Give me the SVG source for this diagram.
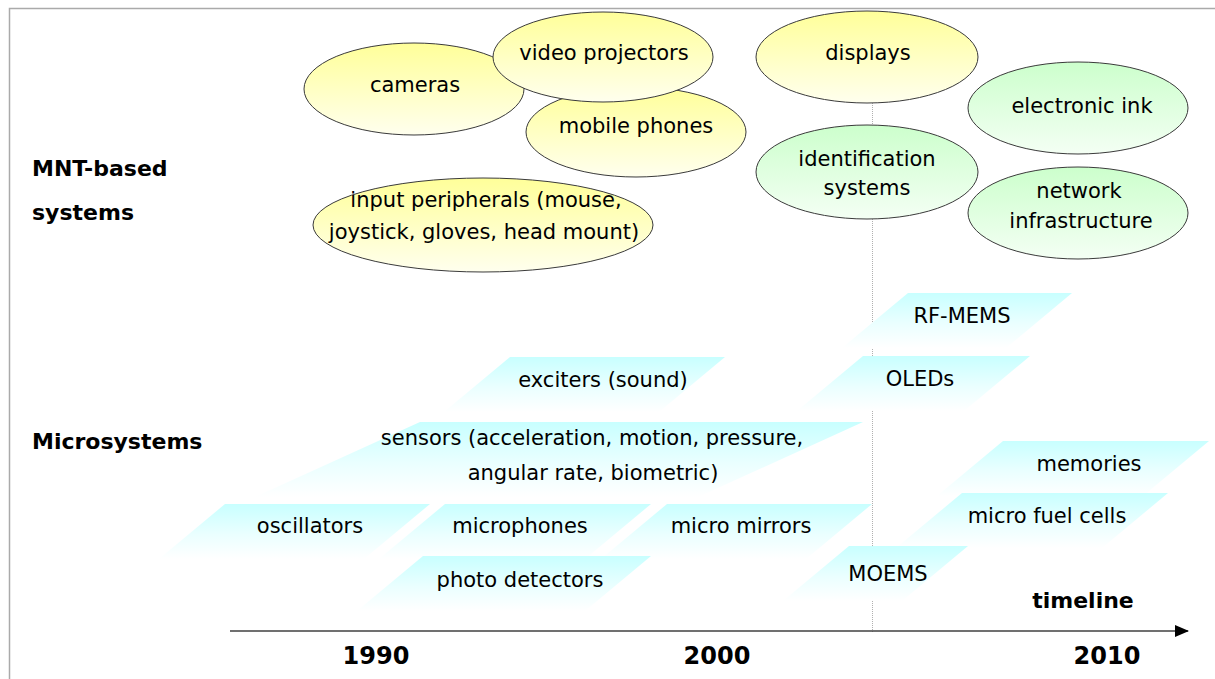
<svg xmlns="http://www.w3.org/2000/svg" width="1215" height="679" viewBox="0 0 1215 679">
<defs>
<linearGradient id="gy" x1="0" y1="0" x2="0" y2="1">
<stop offset="0" stop-color="#ffff99"/>
<stop offset="1" stop-color="#ffffee"/>
</linearGradient>
<linearGradient id="gg" x1="0" y1="0" x2="0" y2="1">
<stop offset="0" stop-color="#ccffcc"/>
<stop offset="1" stop-color="#f4fff4"/>
</linearGradient>
<linearGradient id="gc" x1="0" y1="0" x2="0" y2="1">
<stop offset="0" stop-color="#c8ffff"/>
<stop offset="0.55" stop-color="#eaffff"/>
<stop offset="1" stop-color="#ffffff"/>
</linearGradient>
<marker id="arr" markerWidth="14" markerHeight="12" refX="13" refY="6" orient="auto" markerUnits="userSpaceOnUse">
<path d="M0,0 L14,6 L0,12 Z" fill="#000"/>
</marker>
</defs>
<style>
.t{font-family:"DejaVu Sans","Liberation Sans",sans-serif;font-size:21px;fill:#000;text-anchor:middle}
.b{font-family:"DejaVu Sans","Liberation Sans",sans-serif;font-size:22px;font-weight:bold;fill:#000}
.y{font-family:"DejaVu Sans","Liberation Sans",sans-serif;font-size:24px;font-weight:bold;fill:#000;text-anchor:middle}
.ey{fill:url(#gy);stroke:#3a3a3a;stroke-width:1}
.eg{fill:url(#gg);stroke:#3a3a3a;stroke-width:1}
.p{fill:url(#gc);stroke:none}
</style>
<rect x="0" y="0" width="1215" height="679" fill="#fff"/>
<path d="M9.5,679 V8.5 H1215" fill="none" stroke="#aaaaaa" stroke-width="1.5"/>

<line x1="872.5" y1="103" x2="872.5" y2="632" stroke="#b0b0b0" stroke-width="1" stroke-dasharray="1,1"/>

<g id="label-mnt"><text class="b" x="32" y="176">MNT-based</text><text class="b" x="32" y="220">systems</text></g>
<g id="label-micro"><text class="b" x="32" y="449">Microsystems</text></g>

<g id="cameras"><ellipse class="ey" cx="414" cy="89" rx="110" ry="46"/><text class="t" x="415" y="92">cameras</text></g>
<g id="mobile-phones"><ellipse class="ey" cx="636" cy="132" rx="110" ry="45"/><text class="t" x="636" y="133">mobile phones</text></g>
<g id="video-projectors"><ellipse class="ey" cx="603" cy="57" rx="110" ry="45"/><text class="t" x="604" y="60">video projectors</text></g>
<g id="input-peripherals"><ellipse class="ey" cx="483" cy="225" rx="170" ry="47"/><text class="t" x="486" y="207">input peripherals (mouse,</text><text class="t" x="484" y="239">joystick, gloves, head mount)</text></g>
<g id="displays"><ellipse class="ey" cx="867" cy="57" rx="111" ry="46"/><text class="t" x="868" y="60">displays</text></g>
<g id="identification-systems"><ellipse class="eg" cx="867" cy="172" rx="111" ry="47"/><text class="t" x="867" y="166">identification</text><text class="t" x="867" y="195">systems</text></g>
<g id="electronic-ink"><ellipse class="eg" cx="1078" cy="108" rx="110" ry="46"/><text class="t" x="1082" y="113">electronic ink</text></g>
<g id="network-infrastructure"><ellipse class="eg" cx="1078" cy="213" rx="110" ry="46"/><text class="t" x="1079" y="198">network</text><text class="t" x="1081" y="228">infrastructure</text></g>

<g id="rf-mems"><path class="p" d="M908,293 H1072 L1006,348 H842 Z"/><text class="t" x="962" y="323">RF-MEMS</text></g>
<g id="exciters"><path class="p" d="M510,357 H725 L659,412 H444 Z"/><text class="t" x="603" y="387">exciters (sound)</text></g>
<g id="oleds"><path class="p" d="M863,356 H1030 L964,411 H797 Z"/><text class="t" x="920" y="386">OLEDs</text></g>
<g id="sensors"><path class="p" d="M420,422 H863 L698,497 H255 Z"/><text class="t" x="592" y="445">sensors (acceleration, motion, pressure,</text><text class="t" x="593" y="480">angular rate, biometric)</text></g>
<g id="memories"><path class="p" d="M1003,441 H1209 L1143,496 H937 Z"/><text class="t" x="1089" y="471">memories</text></g>
<g id="oscillators"><path class="p" d="M225,504 H430 L364,559 H159 Z"/><text class="t" x="310" y="533">oscillators</text></g>
<g id="microphones"><path class="p" d="M445,504 H651 L585,559 H379 Z"/><text class="t" x="520" y="533">microphones</text></g>
<g id="micro-mirrors"><path class="p" d="M667,504 H872 L806,559 H601 Z"/><text class="t" x="741" y="533">micro mirrors</text></g>
<g id="micro-fuel-cells"><path class="p" d="M962,493 H1168 L1102,548 H896 Z"/><text class="t" x="1047" y="523">micro fuel cells</text></g>
<g id="photo-detectors"><path class="p" d="M423,556 H651 L585,611 H357 Z"/><text class="t" x="520" y="587">photo detectors</text></g>
<g id="moems"><path class="p" d="M849,546 H968 L902,601 H783 Z"/><text class="t" x="888" y="581">MOEMS</text></g>

<g id="connectors">
<line x1="230" y1="631" x2="1188" y2="631" stroke="#404040" stroke-width="1.5" marker-end="url(#arr)"/>
</g>
<g id="timeline-labels">
<text class="b" x="1083" y="608" text-anchor="middle">timeline</text>
<text class="y" x="376" y="664">1990</text>
<text class="y" x="717" y="664">2000</text>
<text class="y" x="1107" y="664">2010</text>
</g>
</svg>
